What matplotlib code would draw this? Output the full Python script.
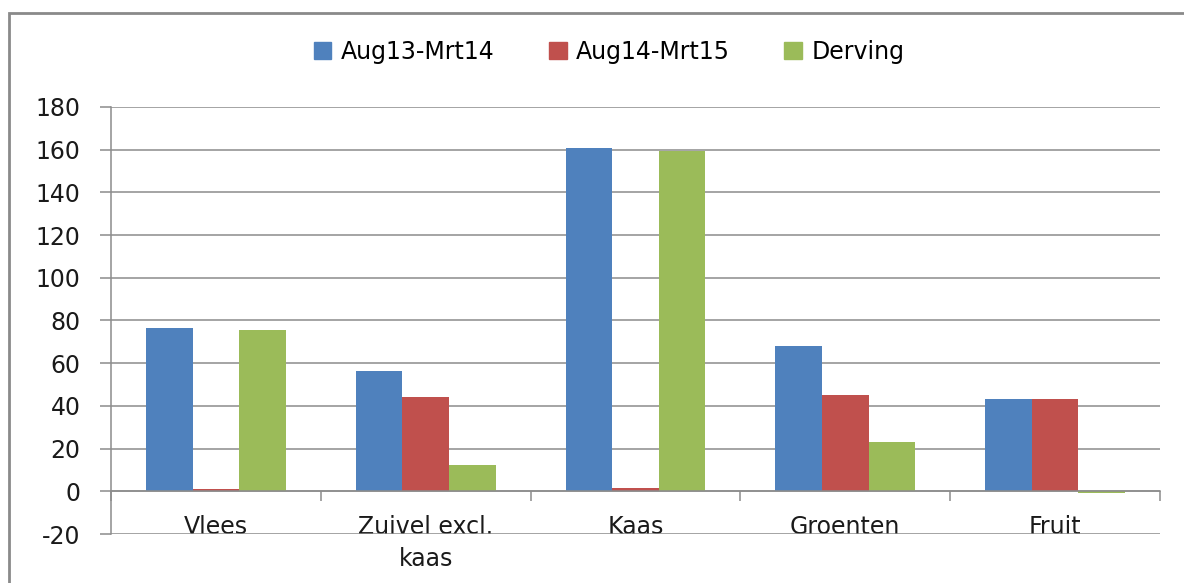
import matplotlib.pyplot as plt
import matplotlib.patches as mpatches
import numpy as np

categories = ['Vlees', 'Zuivel excl.\nkaas', 'Kaas', 'Groenten', 'Fruit']
series_names = ['Aug13-Mrt14', 'Aug14-Mrt15', 'Derving']
aug13_mrt14 = [76.5, 56.5, 161, 68, 43]
aug14_mrt15 = [1, 44, 1.5, 45, 43]
derving = [75.5, 12.5, 159.5, 23, -1]
colors = ['#4F81BD', '#C0504D', '#9BBB59']
y_ticks = list(range(-20, 181, 20))

plt.rcParams['font.family'] = ['DejaVu Sans']
fs = 17

fig = plt.figure(figsize=(11.84, 5.83), dpi=100)
ax = fig.add_axes([111 / 1184, 1 - 534 / 583, (1160 - 111) / 1184, (534 - 107) / 583])

x = np.arange(len(categories))
width = 0.222
for i, (vals, col) in enumerate(zip([aug13_mrt14, aug14_mrt15, derving], colors)):
    ax.bar(x + (i - 1) * width, vals, width, color=col, label=series_names[i], zorder=3)

ax.set_xlim(-0.5, len(categories) - 0.5)
ax.set_ylim(-20, 180)
ax.set_yticks(y_ticks)
ax.set_yticklabels([str(v) for v in y_ticks], fontsize=fs, color='#1a1a1a')
ax.yaxis.grid(True, color='#8c8c8c', linewidth=1.1, zorder=0)

# category axis crosses at 0
ax.spines['bottom'].set_position(('data', 0))
ax.spines['bottom'].set_color('#8c8c8c')
ax.spines['bottom'].set_linewidth(1.1)
ax.spines['bottom'].set_zorder(4)
ax.spines['left'].set_color('#8c8c8c')
ax.spines['left'].set_linewidth(1.1)
ax.spines['top'].set_visible(False)
ax.spines['right'].set_visible(False)

ax.set_xticks(np.arange(len(categories) + 1) - 0.5)
ax.set_xticklabels([])
ax.tick_params(axis='x', which='major', length=7, width=1.1, color='#8c8c8c', direction='out')
ax.set_xticks(x, minor=True)
ax.set_xticklabels(categories, minor=True, fontsize=fs, color='#1a1a1a', linespacing=1.4)
ax.tick_params(axis='x', which='minor', length=0, pad=17)
ax.tick_params(axis='y', length=8, width=1.1, color='#8c8c8c', pad=14)

handles = [mpatches.Patch(color=c, label=n) for c, n in zip(colors, series_names)]
fig.legend(handles=handles, loc='center', bbox_to_anchor=(609 / 1184, 1 - 52 / 583),
           ncol=3, frameon=False, fontsize=fs, handlelength=0.75, handleheight=0.75,
           handletextpad=0.4, columnspacing=2.3)

# chart border
border = mpatches.Rectangle((9 / 1184, -0.1), 1.2, 1 - 13 / 583 + 0.1, transform=fig.transFigure,
                            fill=False, edgecolor='#8a8a8a', linewidth=2)
fig.patches.append(border)

fig.savefig('out.png', dpi=100)
